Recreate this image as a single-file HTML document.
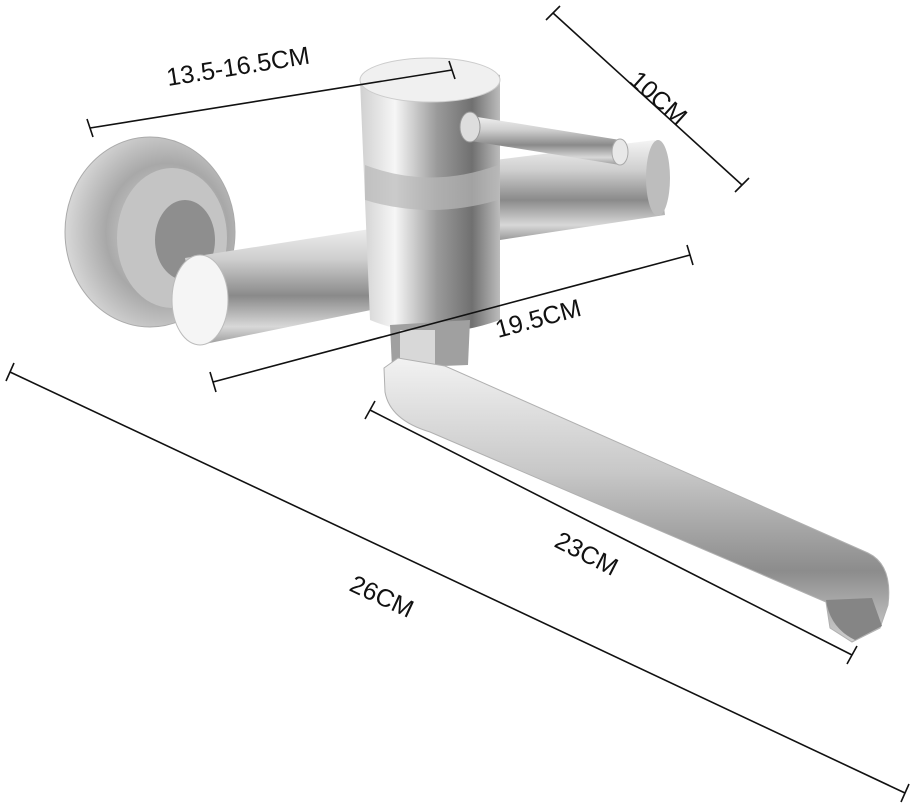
<!DOCTYPE html>
<html><head><meta charset="utf-8"><style>
html,body{margin:0;padding:0;background:#fff;}
svg{display:block;}
text{font-family:"Liberation Sans",sans-serif;font-size:25px;fill:#111;}
</style></head><body>
<svg width="911" height="804" viewBox="0 0 911 804" xmlns="http://www.w3.org/2000/svg">
<defs>
<linearGradient id="cylH" x1="0" y1="0" x2="0" y2="1">
<stop offset="0" stop-color="#f4f4f4"/><stop offset="0.3" stop-color="#cfcfcf"/><stop offset="0.6" stop-color="#8a8a8a"/><stop offset="0.85" stop-color="#d8d8d8"/><stop offset="1" stop-color="#9a9a9a"/>
</linearGradient>
<linearGradient id="cylV" x1="0" y1="0" x2="1" y2="0">
<stop offset="0" stop-color="#d0d0d0"/><stop offset="0.25" stop-color="#f6f6f6"/><stop offset="0.55" stop-color="#9a9a9a"/><stop offset="0.8" stop-color="#707070"/><stop offset="1" stop-color="#bcbcbc"/>
</linearGradient>
<radialGradient id="flange" cx="0.6" cy="0.5" r="0.6">
<stop offset="0" stop-color="#e8e8e8"/><stop offset="0.6" stop-color="#a8a8a8"/><stop offset="1" stop-color="#d8d8d8"/>
</radialGradient>
<linearGradient id="spout" x1="0" y1="0" x2="0" y2="1">
<stop offset="0" stop-color="#f2f2f2"/><stop offset="0.4" stop-color="#c8c8c8"/><stop offset="0.75" stop-color="#8c8c8c"/><stop offset="1" stop-color="#cfcfcf"/>
</linearGradient>
</defs>

<ellipse cx="150" cy="232" rx="85" ry="95" fill="url(#flange)" stroke="#aaa"/>
<ellipse cx="172" cy="238" rx="55" ry="70" fill="#c4c4c4"/>
<ellipse cx="185" cy="240" rx="30" ry="40" fill="#8e8e8e"/>
<path d="M185 258 L415 222 L420 300 L200 345 Z" fill="url(#cylH)"/>
<ellipse cx="200" cy="300" rx="28" ry="45" fill="#f5f5f5" stroke="#bbb"/>
<path d="M495 160 L655 140 L665 215 L500 240 Z" fill="url(#cylH)"/>
<ellipse cx="658" cy="178" rx="12" ry="38" fill="#bdbdbd"/>
<path d="M360 80 Q430 55 500 75 L500 320 Q430 345 370 320 Z" fill="url(#cylV)"/>
<ellipse cx="430" cy="80" rx="70" ry="22" fill="#f0f0f0" stroke="#ccc"/>
<path d="M365 165 Q430 190 498 165 L498 200 Q430 220 365 200 Z" fill="#b8b8b8" opacity="0.7"/>
<path d="M465 115 L620 140 L620 165 L465 140 Z" fill="url(#cylH)"/>
<ellipse cx="620" cy="152" rx="8" ry="13" fill="#e8e8e8" stroke="#aaa"/>
<ellipse cx="470" cy="127" rx="10" ry="15" fill="#ddd" stroke="#999"/>
<path d="M390 325 L470 320 L468 365 L392 368 Z" fill="#a0a0a0"/>
<rect x="400" y="330" width="35" height="35" fill="#d8d8d8"/>
<!-- spout -->
<path d="M384 368 L398 358 L445 366 L868 553 Q893 565 888 605 L880 628 L852 642 L830 628 L826 602 L430 432 Q390 420 385 392 Z" fill="url(#spout)" stroke="#b0b0b0"/>
<path d="M826 600 Q830 628 855 640 L882 626 L872 598 Z" fill="#858585"/>

<g stroke="#111" stroke-width="1.6" fill="none">
<line x1="90" y1="128" x2="452" y2="70"/>
<line x1="87" y1="119" x2="93" y2="137"/><line x1="449" y1="61" x2="455" y2="79"/>
<line x1="553" y1="13" x2="742" y2="185"/>
<line x1="560" y1="6" x2="546" y2="20"/><line x1="749" y1="178" x2="735" y2="192"/>
<line x1="213" y1="382" x2="690" y2="255"/>
<line x1="210" y1="372" x2="216" y2="392"/><line x1="687" y1="245" x2="693" y2="265"/>
<line x1="10" y1="372" x2="905" y2="793"/>
<line x1="14" y1="363" x2="6" y2="381"/><line x1="909" y1="784" x2="901" y2="802"/>
<line x1="370" y1="410" x2="852" y2="655"/>
<line x1="375" y1="401" x2="365" y2="419"/><line x1="857" y1="646" x2="847" y2="664"/>
</g>
<text transform="translate(168,86) rotate(-9)">13.5-16.5CM</text>
<text transform="translate(628,82) rotate(42)">10CM</text>
<text transform="translate(498,338) rotate(-15)">19.5CM</text>
<text transform="translate(348,590) rotate(25)">26CM</text>
<text transform="translate(553,546) rotate(27)">23CM</text>
</svg>
</body></html>
